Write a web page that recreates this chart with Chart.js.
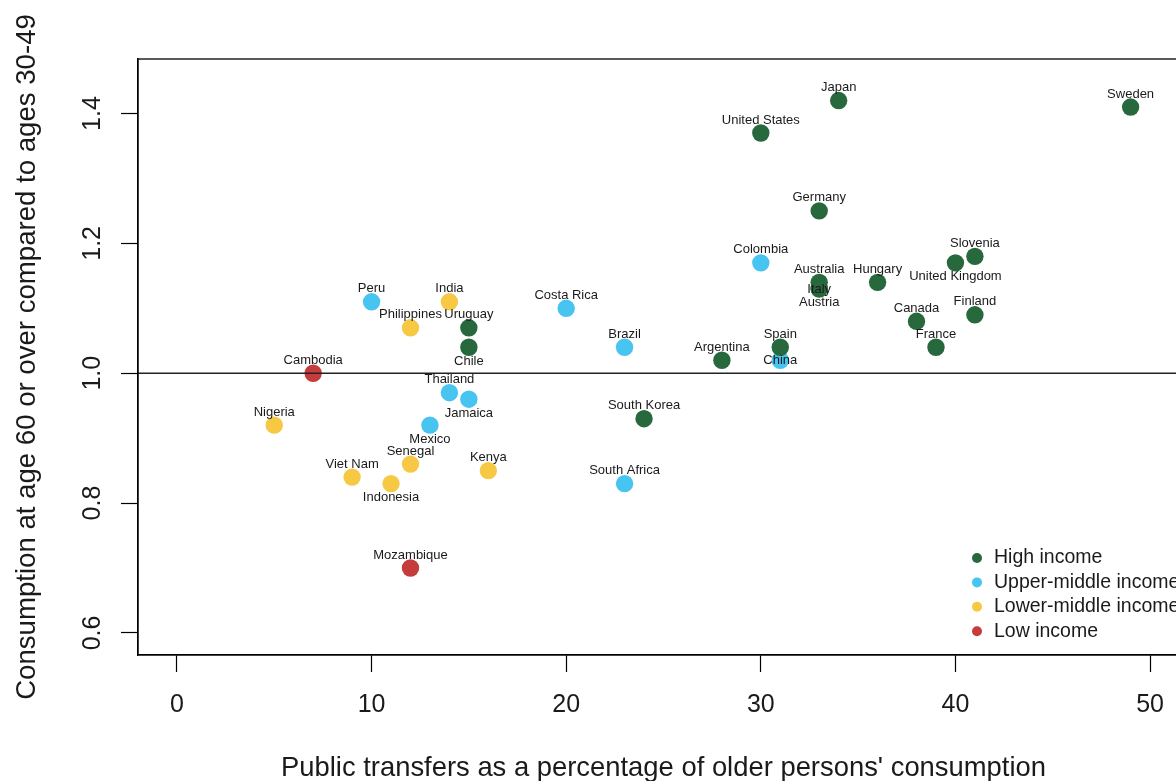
<!DOCTYPE html>
<html><head><meta charset="utf-8">
<script src="https://cdn.jsdelivr.net/npm/chart.js@4/dist/chart.umd.min.js"></script>
<style>html,body{margin:0;padding:0;overflow:hidden;background:#fff;width:1176px;height:781px}canvas{display:block}</style>
</head><body>
<canvas id="c" width="1200" height="800"></canvas>
<script>
const countries = ['Sweden','Japan','United States','Germany','Colombia','Australia','Italy','Austria','Hungary','Slovenia','United Kingdom','Canada','Finland','France','Spain','China','Argentina','Brazil','Costa Rica','South Korea','South Africa','Peru','India','Philippines','Uruguay','Chile','Cambodia','Thailand','Jamaica','Mexico','Nigeria','Senegal','Kenya','Viet Nam','Indonesia','Mozambique'];
const publicTransfers = [49,34,30,33,30,33,33,33,36,41,40,38,41,39,31,31,28,23,20,24,23,10,14,12,15,15,7,14,15,13,5,12,16,9,11,12];
const consumptionRatio = [1.41,1.42,1.37,1.25,1.17,1.14,1.13,1.13,1.14,1.18,1.17,1.08,1.09,1.04,1.04,1.02,1.02,1.04,1.10,0.93,0.83,1.11,1.11,1.07,1.07,1.04,1.00,0.97,0.96,0.92,0.92,0.86,0.85,0.84,0.83,0.70];
const incomeGroup = ['High','High','High','High','Upper-middle','High','High','High','High','High','High','High','High','High','High','Upper-middle','High','Upper-middle','Upper-middle','High','Upper-middle','Upper-middle','Lower-middle','Lower-middle','High','High','Low','Upper-middle','Upper-middle','Upper-middle','Lower-middle','Lower-middle','Lower-middle','Lower-middle','Lower-middle','Low'];
const groupKeys = ['High','Upper-middle','Lower-middle','Low'];
const groupNames = ['High income','Upper-middle income','Lower-middle income','Low income'];
const groupColors = ['#27683C','#48C4F0','#F6C843','#C43C3C'];
const xTickValues = [0,10,20,30,40,50];
const yTickValues = [0.6,0.8,1.0,1.2,1.4];
const yTickLabels = ['0.6','0.8','1.0','1.2','1.4'];
const referenceLine = 1.0;
const xTitle = "Public transfers as a percentage of older persons' consumption";
const yTitle = 'Consumption at age 60 or over compared to ages 30-49';

// label placement (style only)
const labelBelow = ['Chile','Jamaica','Mexico','Indonesia','Austria','United Kingdom'];
const labelOn = ['Italy','China'];

const FONT = '"Liberation Sans", Arial, sans-serif';
const TXT = '#1a1a1a';

const datasets = groupKeys.map((k, gi) => ({
  label: groupNames[gi],
  data: countries.map((c, i) => ({x: publicTransfers[i], y: consumptionRatio[i], name: c}))
                 .filter((p, i) => incomeGroup[i] === k),
  backgroundColor: groupColors[gi],
  borderWidth: 0,
  pointRadius: 8.7,
  pointHoverRadius: 8.7
}));

const decor = {
  id: 'decor',
  afterDatasetsDraw(chart) {
    const {ctx, chartArea: a, scales: {x, y}} = chart;
    ctx.save();
    // reference line
    const yy = y.getPixelForValue(referenceLine);
    ctx.strokeStyle = '#222'; ctx.lineWidth = 1.5;
    ctx.beginPath(); ctx.moveTo(a.left, yy); ctx.lineTo(a.right, yy); ctx.stroke();
    // point labels
    ctx.font = '13px ' + FONT;
    ctx.fillStyle = TXT; ctx.textAlign = 'center'; ctx.textBaseline = 'middle';
    chart.data.datasets.forEach((ds, di) => {
      chart.getDatasetMeta(di).data.forEach((pt, j) => {
        const name = ds.data[j].name;
        let dy = -13;
        if (labelBelow.includes(name)) dy = 14;
        else if (labelOn.includes(name)) dy = 0.5;
        ctx.fillText(name, pt.x, pt.y + dy);
      });
    });
    // plot box
    ctx.strokeStyle = '#000'; ctx.lineWidth = 1.3;
    ctx.strokeRect(a.left, a.top, a.right - a.left, a.bottom - a.top);
    // y tick labels (rotated, as in R)
    ctx.font = '25px ' + FONT;
    ctx.fillStyle = TXT;
    yTickValues.forEach((v, i) => {
      const py = y.getPixelForValue(v);
      ctx.save();
      ctx.translate(a.left - 38, py);
      ctx.rotate(-Math.PI / 2);
      ctx.textAlign = 'center'; ctx.textBaseline = 'alphabetic';
      ctx.fillText(yTickLabels[i], 0, 0);
      ctx.restore();
    });
    // legend (bottom right)
    ctx.font = '19.5px ' + FONT;
    ctx.textAlign = 'left'; ctx.textBaseline = 'middle';
    groupNames.forEach((n, i) => {
      const cx = a.right - 212, cy = a.bottom - 97 + i * 24.4;
      ctx.fillStyle = groupColors[i];
      ctx.beginPath(); ctx.arc(cx, cy, 5, 0, Math.PI * 2); ctx.fill();
      ctx.fillStyle = TXT;
      ctx.fillText(n, cx + 17, cy);
    });
    ctx.restore();
  }
};

new Chart(document.getElementById('c'), {
  type: 'scatter',
  data: {datasets},
  options: {
    responsive: false,
    animation: false,
    events: [],
    devicePixelRatio: 1,
    layout: {padding: {top: 59, right: 11, left: 0, bottom: 0}},
    plugins: {legend: {display: false}, tooltip: {enabled: false}},
    scales: {
      x: {
        type: 'linear', min: -2, max: 52,
        afterBuildTicks: s => { s.ticks = xTickValues.map(v => ({value: v})); },
        afterFit: s => { s.height = 145; },
        grid: {display: true, drawOnChartArea: false, drawTicks: true, tickLength: 17, tickColor: '#000', tickWidth: 1.2},
        border: {display: true, color: '#000', width: 1.3},
        ticks: {font: {size: 25, family: FONT}, color: TXT, padding: 18, maxRotation: 0, autoSkip: false},
        title: {display: true, text: xTitle, color: TXT, font: {size: 27.4, family: FONT}, padding: {top: 0, bottom: 15}}
      },
      y: {
        type: 'linear', min: 0.566, max: 1.484,
        afterBuildTicks: s => { s.ticks = yTickValues.map(v => ({value: v})); },
        afterFit: s => { s.width = 138; },
        grid: {display: true, drawOnChartArea: false, drawTicks: true, tickLength: 17, tickColor: '#000', tickWidth: 1.2},
        border: {display: true, color: '#000', width: 1.3},
        ticks: {color: 'rgba(0,0,0,0)', font: {size: 25, family: FONT}},
        title: {display: true, text: yTitle, color: TXT, font: {size: 27.6, family: FONT}, padding: {top: 11, bottom: 0}}
      }
    }
  },
  plugins: [decor]
});
</script>
</body></html>
